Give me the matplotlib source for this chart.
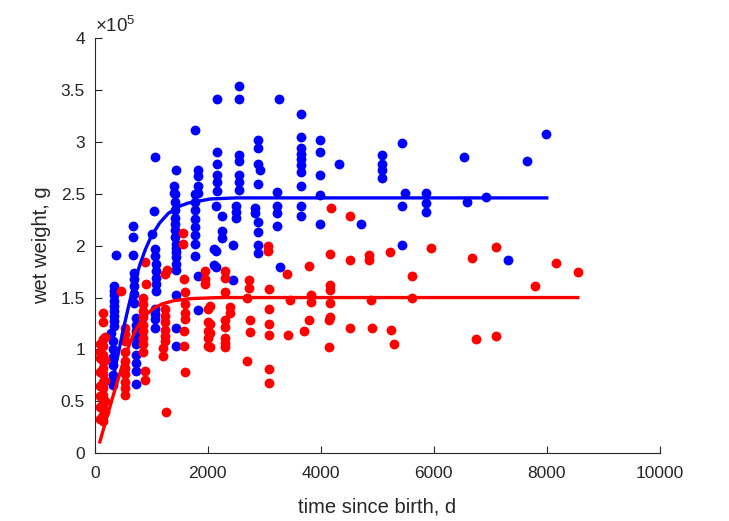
import numpy as np
import matplotlib

matplotlib.use("Agg")
import matplotlib.pyplot as plt

plt.rcParams["font.family"] = ["Liberation Sans", "DejaVu Sans"]
plt.rcParams["mathtext.default"] = "regular"

# blue data: time since birth (d), wet weight (1e5 g)
blue_t = [1062, 1434, 1398, 1398, 1770, 1823, 1823, 1823, 1823, 2159, 2159, 2159,
          2159, 2159, 2159, 2549, 2549, 3262, 3658, 2549, 2549, 2549, 2549, 2549,
          2890, 2890, 2890, 2930, 2890, 3227, 3658, 3658, 3658, 3658, 3658, 3658,
          3658, 3994, 3994, 3994, 3994, 4324, 5092, 5092, 5092, 5092, 5434, 5487,
          5870, 6543, 7646, 7988, 6933, 6590, 7315,
          5434, 5870, 5870, 4708, 5434,
          2154, 2260, 2496, 2496, 2496, 2832, 2832, 2890, 3227, 3227, 3227, 3658,
          3658, 3994, 2260, 2260, 2154, 2448, 2890, 2890, 2890, 2154, 2448, 3274,
          340, 340, 340, 340, 340, 340, 340, 340, 340, 283,
          330, 330, 330, 330, 330, 330, 330,
          384, 679, 679, 679, 700, 700, 700, 700, 700,
          737, 737, 737, 737, 737, 737, 737, 737, 737,
          1050, 1015, 1062, 1062, 1080, 1080, 1080, 1080, 1080,
          1062, 1062, 1062, 1062,
          1420, 1420, 1420, 1420, 1420, 1420, 1420, 1430, 1430, 1430, 1430, 1430, 1430,
          1434, 1445, 1445,
          1770, 1770, 1770, 1770, 1770, 1770, 1770, 1770,
          1829, 1829, 2112, 2112]
blue_w = [2.85, 2.73, 2.57, 2.51, 3.11, 2.73, 2.67, 2.57, 2.51, 3.41, 2.90, 2.79,
          2.68, 2.61, 2.53, 3.54, 3.41, 3.41, 3.27, 2.87, 2.82, 2.68, 2.61, 2.54,
          3.02, 2.94, 2.79, 2.73, 2.59, 2.52, 3.05, 2.94, 2.88, 2.83, 2.78, 2.71,
          2.57, 3.02, 2.90, 2.68, 2.49, 2.79, 2.87, 2.79, 2.73, 2.65, 2.99, 2.51,
          2.51, 2.85, 2.82, 3.08, 2.47, 2.42, 1.86,
          2.38, 2.41, 2.32, 2.21, 2.01,
          2.38, 2.29, 2.38, 2.32, 2.27, 2.36, 2.31, 2.23, 2.38, 2.31, 2.19, 2.38,
          2.29, 2.21, 2.14, 2.07, 1.95, 2.01, 2.13, 2.01, 1.93, 1.79, 1.67, 1.79,
          1.61, 1.56, 1.52, 1.47, 1.42, 1.37, 1.32, 1.27, 1.23, 1.16,
          1.08, 1.00, 0.93, 0.85, 0.75, 0.70, 0.66,
          1.91, 2.19, 2.08, 1.91, 1.74, 1.68, 1.61, 1.53, 1.45,
          1.30, 1.24, 1.18, 1.11, 1.05, 0.95, 0.87, 0.79, 0.67,
          2.33, 2.11, 1.97, 1.90, 1.82, 1.76, 1.69, 1.63, 1.56,
          1.39, 1.34, 1.29, 1.21,
          2.50, 2.42, 2.34, 2.27, 2.21, 2.15, 2.08, 2.02, 1.98, 1.94, 1.89, 1.82, 1.77,
          1.52, 1.21, 1.03,
          2.50, 2.42, 2.34, 2.26, 2.18, 2.10, 2.02, 1.90,
          1.71, 1.38, 1.97, 1.81]

# red data
red_t = [148, 148, 140, 140, 140, 140, 140, 140, 140, 140, 140, 140, 140, 140, 140,
         100, 100, 100, 100, 100, 100, 100, 100, 180, 180, 180, 180, 180,
         472, 530, 530, 530, 530, 530, 530, 530, 530, 530, 530,
         885, 915, 860, 860, 860, 860, 860, 860, 860, 860, 860, 885, 885,
         1240, 1270, 1250, 1250, 1250, 1250, 1250, 1250, 1210, 1210, 1257,
         1563, 1563, 1581, 1600, 1600, 1600, 1600, 1581, 1581, 1593,
         1947, 1947, 1947, 2000, 2000, 2000, 2000, 2000,
         3067, 3067, 3788, 3410, 2301, 2301, 2731, 2731, 3085, 2301, 2696, 3451,
         3835, 3835, 2035, 2402, 2402, 3085,
         2035, 2035, 2035, 2301, 2301, 2301, 2301, 2301, 2743, 2743, 2702, 3085, 3085,
         3085, 3085, 3422, 3704, 3793, 4142, 4142,
         4189, 4513, 4159, 4513, 4850, 4850, 5233, 5959, 5623, 4159, 4159, 4159,
         4897, 5623, 4159, 4525, 4909, 5239, 5300,
         6678, 7109, 8171, 8554, 7793, 6750, 7100]
red_w = [1.35, 1.26, 1.10, 1.03, 0.95, 0.89, 0.82, 0.76, 0.69, 0.63, 0.56, 0.50, 0.44, 0.37, 0.31,
         1.05, 0.98, 0.92, 0.78, 0.65, 0.55, 0.45, 0.33, 1.12, 0.90, 0.70, 0.50, 0.40,
         1.56, 1.21, 1.15, 1.08, 0.98, 0.89, 0.82, 0.76, 0.69, 0.63, 0.56,
         1.84, 1.63, 1.50, 1.44, 1.37, 1.31, 1.24, 1.18, 1.11, 1.05, 0.98, 0.79, 0.71,
         1.73, 1.77, 1.39, 1.32, 1.26, 1.19, 1.13, 1.08, 1.01, 0.94, 0.40,
         2.12, 2.02, 1.68, 1.55, 1.44, 1.35, 1.29, 1.18, 1.03, 0.78,
         1.76, 1.68, 1.63, 1.39, 1.26, 1.18, 1.11, 1.03,
         2.00, 1.95, 1.80, 1.73, 1.76, 1.69, 1.67, 1.59, 1.58, 1.55, 1.50, 1.48,
         1.52, 1.46, 1.42, 1.41, 1.35, 1.39,
         1.25, 1.16, 1.02, 1.28, 1.22, 1.11, 1.06, 1.02, 1.28, 1.17, 0.89, 1.25, 1.14,
         0.81, 0.68, 1.14, 1.18, 1.28, 1.28, 1.02,
         2.36, 2.29, 1.92, 1.86, 1.91, 1.86, 1.94, 1.98, 1.71, 1.62, 1.57, 1.45,
         1.48, 1.50, 1.31, 1.21, 1.21, 1.19, 1.05,
         1.88, 1.99, 1.83, 1.75, 1.61, 1.10, 1.13]

# fitted growth curves
blue_fit_t = [300, 400, 500, 600, 700, 800, 900, 1000, 1150, 1300, 1500, 1650, 1850, 2050, 2500, 3000, 4000, 8000]
blue_fit_w = [0.66, 0.92, 1.18, 1.42, 1.64, 1.82, 1.97, 2.09, 2.22, 2.31, 2.38, 2.41, 2.43, 2.45, 2.46, 2.46, 2.46, 2.46]
red_fit_t = [90, 200, 350, 500, 620, 700, 800, 900, 1050, 1200, 1400, 1700, 2200, 3000, 8550]
red_fit_w = [0.11, 0.32, 0.60, 0.87, 1.06, 1.16, 1.26, 1.33, 1.40, 1.44, 1.47, 1.49, 1.50, 1.50, 1.50]

fig = plt.figure(figsize=(7.29, 5.21), dpi=100)
ax = fig.add_axes([0.130, 0.130, 0.775, 0.797])

scale = 1e5
ax.scatter(blue_t, np.array(blue_w) * scale, s=50, color=(0, 0, 1), linewidths=0, zorder=2)
ax.scatter(red_t, np.array(red_w) * scale, s=50, color=(1, 0, 0), linewidths=0, zorder=3)
ax.plot(blue_fit_t, np.array(blue_fit_w) * scale, color=(0, 0, 1), lw=2.4, zorder=4)
ax.plot(red_fit_t, np.array(red_fit_w) * scale, color=(1, 0, 0), lw=2.4, zorder=4)

ax.set_xlim(0, 10000)
ax.set_ylim(0, 4e5)
ax.set_xticks(np.arange(0, 10001, 2000))
ax.set_yticks(np.arange(0, 4.01e5, 0.5e5))
ax.set_yticklabels(["0", "0.5", "1", "1.5", "2", "2.5", "3", "3.5", "4"])

axis_col = "#262626"
for side in ["top", "right"]:
    ax.spines[side].set_visible(False)
for side in ["left", "bottom"]:
    ax.spines[side].set_color(axis_col)
    ax.spines[side].set_linewidth(0.8)
ax.tick_params(direction="in", length=5, width=0.8, colors=axis_col, labelsize=12.5,
               labelcolor=axis_col)
ax.tick_params(axis="x", pad=9)
ax.tick_params(axis="y", pad=7)

ax.text(0.0, 1.006, r"×10$^{5}$", transform=ax.transAxes, fontsize=13.5,
        color=axis_col, ha="left", va="bottom")
ax.set_xlabel("time since birth, d", fontsize=14.5, color=axis_col, labelpad=12)
ax.set_ylabel("wet weight, g", fontsize=14.5, color=axis_col, labelpad=7)

fig.savefig("out.png", dpi=100)
